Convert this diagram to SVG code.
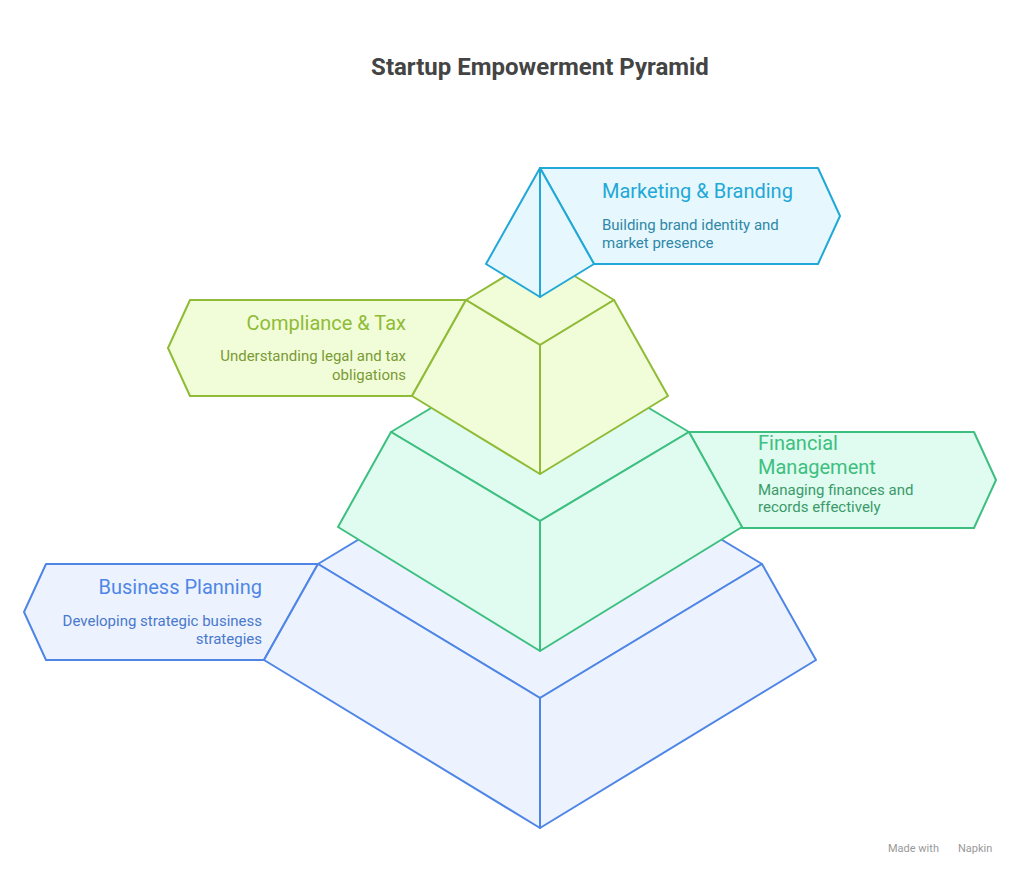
<svg xmlns="http://www.w3.org/2000/svg" width="1020" height="877" viewBox="0 0 1020 877">
<style>
text{font-family:Roboto,"Liberation Sans",sans-serif}
.t{font-size:20px}.d{font-size:15px}
.b{stroke:#4f86e6;fill:#ecf3fe;stroke-width:2;stroke-linejoin:round}
.g{stroke:#3dbf80;fill:#e0fbef;stroke-width:2;stroke-linejoin:round}
.y{stroke:#8fbb36;fill:#f1fdd9;stroke-width:2;stroke-linejoin:round}
.c{stroke:#22a8d6;fill:#e6f7fd;stroke-width:2;stroke-linejoin:round}
</style>
<rect width="1020" height="877" fill="#fff"/>
<text x="540" y="75" text-anchor="middle" font-size="24" font-weight="bold" fill="#444">Startup Empowerment Pyramid</text>
<g id="label-business"><polygon class="b" points="318,564 46,564 24,612 46,660 264,660"/>
<text class="t" x="262" y="594" text-anchor="end" fill="#4f86e6">Business Planning</text>
<text class="d" x="262" y="626" text-anchor="end" fill="#4a78cc">Developing strategic business</text>
<text class="d" x="262" y="644" text-anchor="end" fill="#4a78cc">strategies</text></g>
<g id="label-financial"><polygon class="g" points="689,432 974,432 996,480 974,528 742,528"/>
<text class="t" x="758" y="450" fill="#3dbf80">Financial</text>
<text class="t" x="758" y="474" fill="#3dbf80">Management</text>
<text class="d" x="758" y="495" fill="#3a9a6a">Managing finances and</text>
<text class="d" x="758" y="512" fill="#3a9a6a">records effectively</text></g>
<g id="label-compliance"><polygon class="y" points="466,300 190,300 168,348 190,396 412,396"/>
<text class="t" x="406" y="330" text-anchor="end" fill="#8fbb36">Compliance &amp; Tax</text>
<text class="d" x="406" y="361" text-anchor="end" fill="#7a9a34">Understanding legal and tax</text>
<text class="d" x="406" y="380" text-anchor="end" fill="#7a9a34">obligations</text></g>
<g id="label-marketing"><polygon class="c" points="540,168 818,168 840,216 818,264 594,264"/>
<text class="t" x="602" y="198" fill="#22a8d6">Marketing &amp; Branding</text>
<text class="d" x="602" y="230" fill="#2e88a8">Building brand identity and</text>
<text class="d" x="602" y="248" fill="#2e88a8">market presence</text></g>
<g id="tier-business">
<polygon class="b" points="318,564 540,430 762,564 540,698"/>
<polygon class="b" points="318,564 540,698 540,828 264,660"/>
<polygon class="b" points="540,698 762,564 816,660 540,828"/></g>
<g id="tier-financial">
<polygon class="g" points="391,432 540,343 689,432 540,521"/>
<polygon class="g" points="391,432 540,521 540,651 338,527"/>
<polygon class="g" points="540,521 689,432 742,527 540,651"/></g>
<g id="tier-compliance">
<polygon class="y" points="466,300 540,255 614,300 540,345"/>
<polygon class="y" points="466,300 540,345 540,474 412,396"/>
<polygon class="y" points="540,345 614,300 668,396 540,474"/></g>
<g id="tier-marketing">
<polygon class="c" points="540,168 486,264 540,297"/>
<polygon class="c" points="540,168 594,264 540,297"/></g>
<g id="connectors"></g>
<text x="888" y="852" font-size="11" fill="#999">Made with</text>
<text x="958" y="852" font-size="11" fill="#999">Napkin</text>
</svg>
